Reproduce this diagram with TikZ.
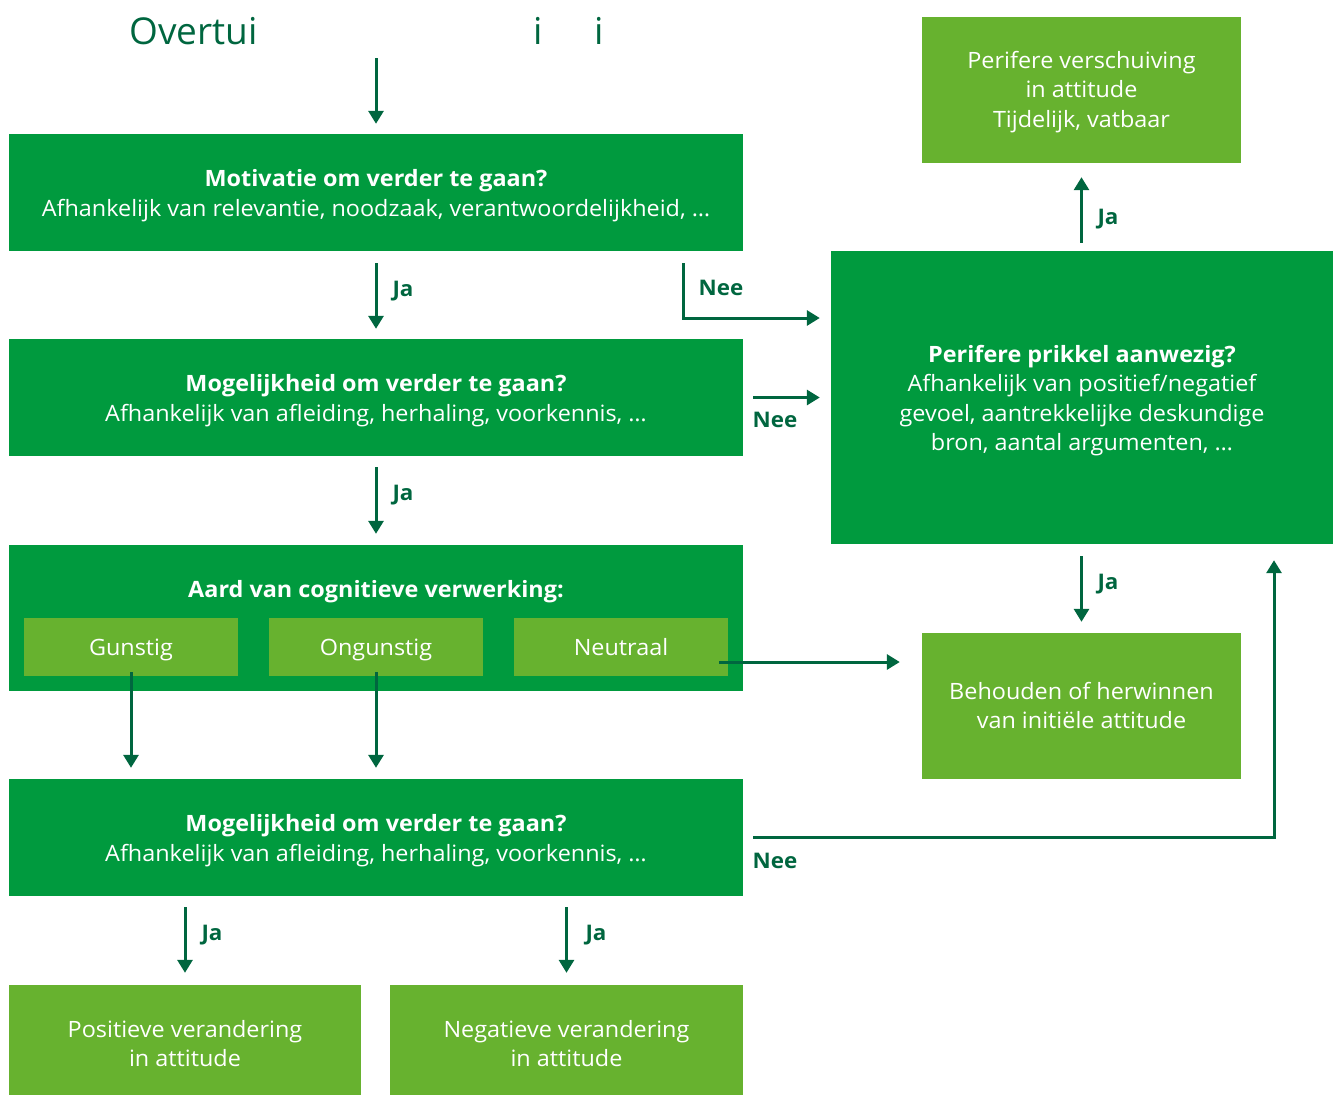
\documentclass[tikz,border=0pt]{standalone}
\usepackage{fontspec}
\setmainfont{Open Sans}[FakeStretch=1.04]
\newfontfamily\ttlfamily{Open Sans}
\usetikzlibrary{arrows.meta,calc}
\definecolor{dkgreen}{HTML}{009A3E}
\definecolor{ltgreen}{HTML}{67B22F}
\definecolor{arrowgreen}{HTML}{00663F}
\newcommand\bxfont{\fontsize{22.5}{29.5}\selectfont}
\newcommand\lbfont{\fontsize{21.5}{25}\selectfont\bfseries}
\newcommand\ttlfont{\ttlfamily\fontsize{37}{40}\selectfont}
% centred lines, lowered a little inside their box without changing its extent
\newcommand\bxlines[2][3pt]{\raisebox{-#1}[\height][\depth]{\begin{tabular}{@{}c@{}}#2\end{tabular}}}

\begin{document}
\begin{tikzpicture}[x=1pt,y=-1pt,
  darkbox/.style={fill=dkgreen, text=white, inner sep=0pt, font=\bxfont},
  litebox/.style={fill=ltgreen, text=white, inner sep=0pt, font=\bxfont},
  conn/.style={draw=arrowgreen, line width=3pt, -{Triangle[length=13pt,width=15pt]}},
  lbl/.style={text=arrowgreen, font=\lbfont, inner sep=0pt, text height=15.5pt, text depth=0pt},
  ttl/.style={text=arrowgreen, font=\ttlfont, inner sep=0pt, anchor=base west}
]
\useasboundingbox (0,0) rectangle (1333,1096);

% heading
\node[ttl] (t1) at (129,44) {Overtui};
\node[ttl] (t2) at (533,44) {i};
\node[ttl] (t3) at (594,44) {i};
\coordinate (tstart) at (376,58);

% left column
\node[darkbox, minimum width=734pt, minimum height=117pt] (mot) at (376,192.5)
  {\bxlines{\textbf{Motivatie om verder te gaan?}\\Afhankelijk van relevantie, noodzaak, verantwoordelijkheid, \dots}};
\node[darkbox, minimum width=734pt, minimum height=117pt] (mog1) at (376,397.5)
  {\bxlines{\textbf{Mogelijkheid om verder te gaan?}\\Afhankelijk van afleiding, herhaling, voorkennis, \dots}};
\node[darkbox, minimum width=734pt, minimum height=146pt] (aard) at (376,618) {};
\node[darkbox] (aardt) at (376,589) {\bxlines{\textbf{Aard van cognitieve verwerking:}}};
\node[litebox, minimum width=214pt, minimum height=58pt] (gun) at (131,647) {\bxlines{Gunstig}};
\node[litebox, minimum width=214pt, minimum height=58pt] (ong) at (376,647) {\bxlines{Ongunstig}};
\node[litebox, minimum width=214pt, minimum height=58pt] (neu) at (621,647) {\bxlines{Neutraal}};
\node[darkbox, minimum width=734pt, minimum height=117pt] (mog2) at (376,837.5)
  {\bxlines{\textbf{Mogelijkheid om verder te gaan?}\\Afhankelijk van afleiding, herhaling, voorkennis, \dots}};
\node[litebox, minimum width=352pt, minimum height=110pt] (pos) at (185,1040)
  {\bxlines[6pt]{Positieve verandering\\in attitude}};
\node[litebox, minimum width=353pt, minimum height=110pt] (neg) at (566.5,1040)
  {\bxlines[6pt]{Negatieve verandering\\in attitude}};

% right column
\node[darkbox, minimum width=502pt, minimum height=293pt] (prik) at (1082,397.5)
  {\bxlines{\textbf{Perifere prikkel aanwezig?}\\Afhankelijk van positief/negatief\\gevoel, aantrekkelijke deskundige\\bron, aantal argumenten, \dots}};
\node[litebox, minimum width=319pt, minimum height=146pt] (vers) at (1081.5,90)
  {\bxlines[2pt]{Perifere verschuiving\\in attitude\\Tijdelijk, vatbaar}};
\node[litebox, minimum width=319pt, minimum height=146pt] (beh) at (1081.5,706)
  {\bxlines[2pt]{Behouden of herwinnen\\van initiële attitude}};

% connectors
\draw[conn, shorten >=10pt] (tstart) -- (mot.north);
\draw[conn, shorten <=12pt, shorten >=10pt] (mot.south) -- (mog1.north);
\draw[conn, shorten <=11pt, shorten >=11pt] (mog1.south) -- (aard.north);
\draw[conn, shorten <=12pt, shorten >=11pt] ([xshift=307pt]mot.south) |- ([yshift=79.5pt]prik.west);
\draw[conn, shorten <=10pt, shorten >=11pt] (mog1.east) -- (prik.west);
\draw[conn, shorten >=11pt] ([yshift=4pt]gun.south) -- (gun.south |- mog2.north);
\draw[conn, shorten >=11pt] ([yshift=4pt]ong.south) -- (ong.south |- mog2.north);
\draw[conn, shorten >=13pt] ([xshift=-9pt,yshift=-15pt]neu.east) -- ([xshift=-9pt,yshift=-15pt]neu.east -| beh.west);
\draw[conn, shorten <=10pt, shorten >=16pt] (mog2.east) -| ([xshift=192pt]prik.south);
\draw[conn, shorten <=12pt, shorten >=11pt] (beh.north |- prik.south) -- (beh.north);
\draw[conn, shorten <=8pt, shorten >=14pt] (vers.south |- prik.north) -- (vers.south);
\draw[conn, shorten <=11pt, shorten >=12pt] (pos.north |- mog2.south) -- (pos.north);
\draw[conn, shorten <=11pt, shorten >=12pt] (neg.north |- mog2.south) -- (neg.north);

% connector labels
\node[lbl] (l1) at (403,289) {Ja};
\node[lbl] (l2) at (403,493) {Ja};
\node[lbl] (l3) at (1108,217) {Ja};
\node[lbl] (l4) at (1108,582) {Ja};
\node[lbl] (l5) at (212,933) {Ja};
\node[lbl] (l6) at (596,933) {Ja};
\node[lbl] (l7) at (721,288) {Nee};
\node[lbl] (l8) at (775,420) {Nee};
\node[lbl] (l9) at (775,861) {Nee};
\end{tikzpicture}
\end{document}
